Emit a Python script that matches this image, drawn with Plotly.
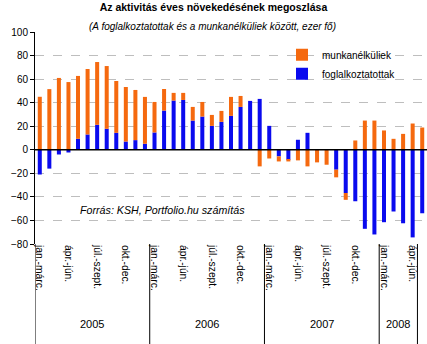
import plotly.graph_objects as go

# Rolling three-month periods (monthly steps), labels shown every third period
periods = list(range(41))
tick_positions = [0, 3, 6, 9, 12, 15, 18, 21, 24, 27, 30, 33, 36, 39]
tick_labels = ["jan.-márc.", "ápr.-jún.", "júl.-szept.", "okt.-dec."] * 3 + ["jan.-márc.", "ápr.-jún."]
years = ["2005", "2006", "2007", "2008"]
year_centers = [5.5, 17.5, 29.5, 37.5]
year_bounds = [-0.5, 11.5, 23.5, 35.5, 39.5]

foglalkoztatottak = [
    -21, -16, -4, -2.3, 9.3, 13, 21.2, 17.8, 14.4, 7, 8.2, 5.1,
    14.7, 33.3, 41.8, 42.3, 24.8, 28.2, 20.3, 23.7, 28.8, 36.4, 41.5, 43.2,
    20.3, -5.6, -8.5, 8.5, 14.4, 0, 0, -16.9, -36.7, -43.7, -67.1, -71.9,
    -61.5, -52.4, -62.4, -74.4, -53.9,
]
munkanelkuliek = [
    45, 51.5, 61, 57.5, 53.4, 55.6, 53.3, 53.3, 44, 46.3, 42.6, 39.8,
    25.9, 18.3, 6.5, 6, 11.6, 12.4, 9.3, 9.3, 16.1, 9.3, 0, -14.1,
    -7.4, -4.3, -1.4, -9, -14.1, -10.7, -12.7, -6.5, -5.8, 7.9, 24.8, 24.8,
    16.4, 9.3, 13.5, 22.3, 18.9,
]

FONT = "Arial, Liberation Sans, sans-serif"
ORANGE = "#F5690F"
BLUE = "#0A0AEE"

fig = go.Figure()
fig.add_trace(go.Bar(x=periods, y=foglalkoztatottak, name="foglalkoztatottak",
                     marker=dict(color=BLUE, line=dict(width=0))))
fig.add_trace(go.Bar(x=periods, y=munkanelkuliek, name="munkanélküliek",
                     marker=dict(color=ORANGE, line=dict(width=0))))

shapes = []
# zero line on top of bars
shapes.append(dict(type="line", xref="paper", yref="y", x0=0, x1=1, y0=0, y1=0,
                   line=dict(color="black", width=1.5), layer="above"))
# year dividers in the category label area
for b in year_bounds:
    shapes.append(dict(type="line", xref="x", yref="paper", x0=b, x1=b, y0=-0.475, y1=0,
                       line=dict(color="black", width=1), layer="above"))

annotations = []
for yr, c in zip(years, year_centers):
    annotations.append(dict(text=yr, x=c, xref="x", y=-0.413, yref="paper",
                            showarrow=False, font=dict(family=FONT, size=11, color="black")))
annotations.append(dict(text="<i>(A foglalkoztatottak és a munkanélküliek között, ezer fő)</i>",
                        x=(212 - 35) / 392, xref="paper", y=(244 - 19) / 212.3, yref="paper",
                        showarrow=False, font=dict(family=FONT, size=10, color="black")))
annotations.append(dict(text="<i>Forrás: KSH, Portfolio.hu számítás</i>",
                        x=(78 - 35) / 392, xref="paper", xanchor="left",
                        y=(244 - 210) / 212.3, yref="paper", yanchor="middle",
                        showarrow=False, font=dict(family=FONT, size=10.7, color="black")))

fig.update_layout(
    width=427, height=344,
    margin=dict(l=35, r=0, t=32, b=100, pad=0),
    paper_bgcolor="white", plot_bgcolor="white",
    barmode="relative", bargap=0.58,
    font=dict(family=FONT, size=10, color="black"),
    title=dict(text="<b>Az aktivitás éves növekedésének megoszlása</b>",
               x=0.5, xref="container", xanchor="center",
               y=1 - 7.5 / 344, yref="container", yanchor="middle",
               font=dict(family=FONT, size=10.5, color="black")),
    showlegend=True,
    legend=dict(x=(282 - 35) / 392, xanchor="left", y=(244 - 40) / 212.3, yanchor="top",
                bgcolor="rgba(0,0,0,0)", traceorder="reversed",
                font=dict(family=FONT, size=10, color="black"),
                itemwidth=30, tracegroupgap=0),
    xaxis=dict(range=[-0.5, 40.5], tickmode="array", tickvals=tick_positions,
               ticktext=tick_labels, tickangle=90, showgrid=False, zeroline=False,
               showline=False, ticks="", tickfont=dict(family=FONT, size=10.3, color="black")),
    yaxis=dict(range=[-80, 100], dtick=20, tick0=0, showgrid=True, gridcolor="#BEBEBE",
               griddash="dash", gridwidth=1, zeroline=False, showline=True,
               linecolor="black", linewidth=1, ticks="outside", ticklen=4,
               tickcolor="black", tickfont=dict(family=FONT, size=10, color="black")),
    shapes=shapes, annotations=annotations,
)

fig.write_html("out.html")
